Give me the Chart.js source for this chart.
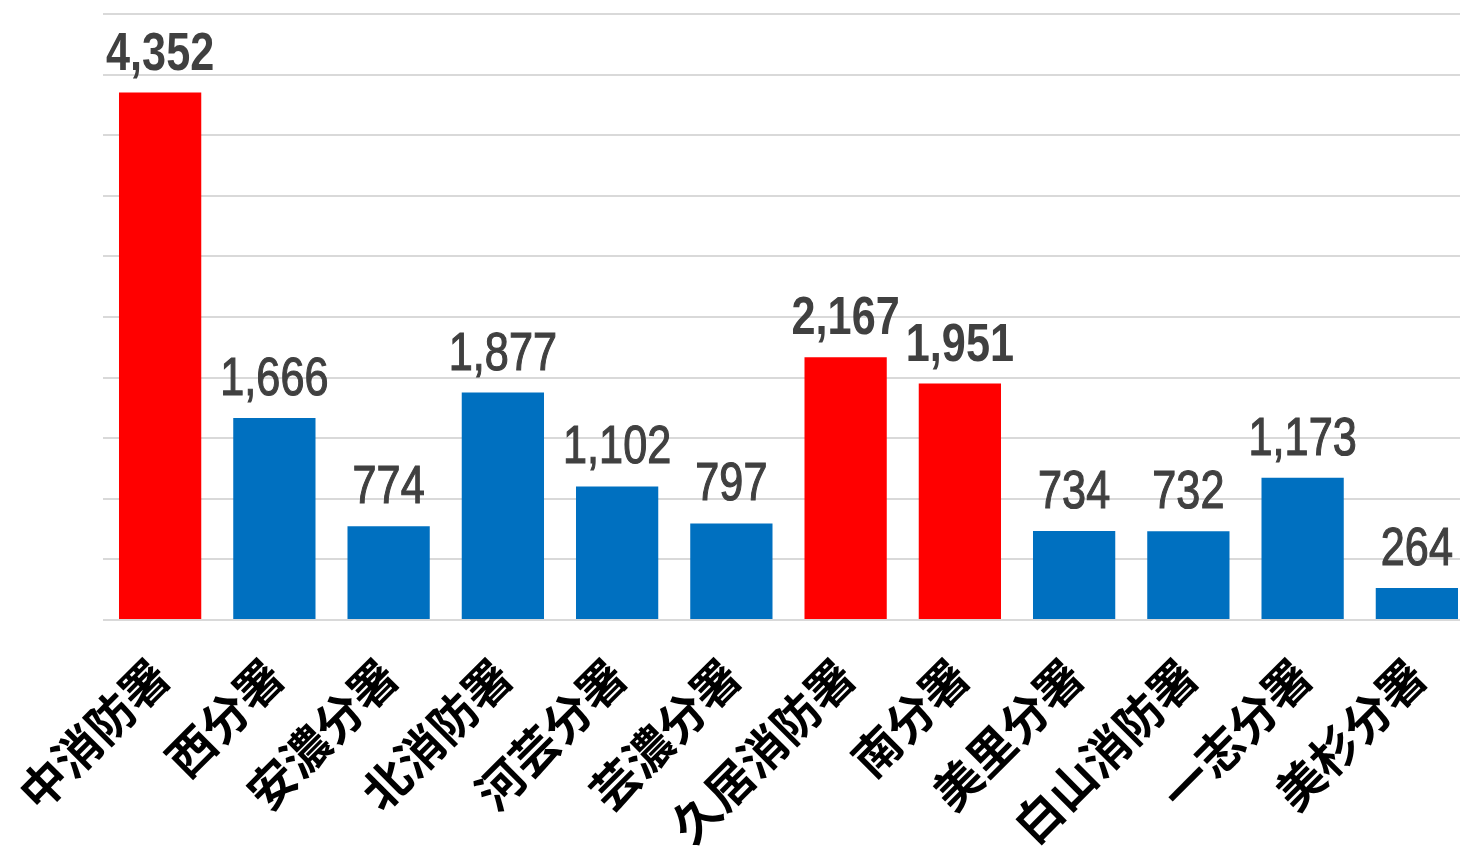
<!DOCTYPE html>
<html lang="ja">
<head>
<meta charset="utf-8">
<script src="https://cdn.jsdelivr.net/npm/chart.js@4/dist/chart.umd.min.js"></script>
<style>
  html, body { margin: 0; padding: 0; background: #fff; overflow: hidden; }
  #wrap { width: 1460px; height: 851px; overflow: hidden; }
</style>
</head>
<body>
<div id="wrap"><canvas id="grafico" width="1474" height="851"></canvas></div>
<script>
// 消防署別の件数
const categories = ["中消防署", "西分署", "安濃分署", "北消防署", "河芸分署", "芸濃分署",
  "久居消防署", "南分署", "美里分署", "白山消防署", "一志分署", "美杉分署"];
const values = [4352, 1666, 774, 1877, 1102, 797, 2167, 1951, 734, 732, 1173, 264];
// 本署(赤)かどうか
const isMain = [true, false, false, false, false, false, true, true, false, false, false, false];

const RED = "#FF0000";
const BLUE = "#0070C0";

// 棒の上に数値を描く
const valueLabels = {
  id: "valueLabels",
  afterDatasetsDraw(chart) {
    const ctx = chart.ctx;
    const meta = chart.getDatasetMeta(0);
    meta.data.forEach(function (bar, i) {
      const txt = values[i].toLocaleString("en-US");
      ctx.save();
      ctx.translate(bar.x, bar.y - 23);
      ctx.scale(0.8, 1);
      ctx.font = (isMain[i] ? "bold " : "") + "54px 'Liberation Sans', Arial, sans-serif";
      ctx.fillStyle = "#404040";
      ctx.strokeStyle = "#404040";
      ctx.lineWidth = 1.2;
      ctx.textAlign = "center";
      ctx.textBaseline = "alphabetic";
      ctx.fillText(txt, 0, 0);
      if (!isMain[i]) ctx.strokeText(txt, 0, 0); // 少し太く
      ctx.restore();
    });
  }
};

document.addEventListener("DOMContentLoaded", function () {
  const ctx = document.getElementById("grafico").getContext("2d");
  new Chart(ctx, {
    type: "bar",
    data: {
      labels: categories,
      datasets: [{
        data: values,
        backgroundColor: isMain.map(m => m ? RED : BLUE),
        barPercentage: 0.72,
        categoryPercentage: 1
      }]
    },
    options: {
      responsive: false,
      animation: false,
      layout: { padding: { top: 14, left: 0, right: 0, bottom: 0 } },
      plugins: {
        legend: { display: false },
        tooltip: { enabled: false }
      },
      scales: {
        x: {
          grid: { display: false, drawTicks: false },
          border: { display: false },
          afterFit(scale) {
            scale.height = 231;
            scale.paddingLeft = 103;
            scale.paddingRight = 0;
          },
          ticks: {
            autoSkip: false,
            minRotation: 45,
            maxRotation: 45,
            padding: 28,
            color: "#000",
            font: { family: "'Noto Sans CJK JP', sans-serif", size: 47, weight: "bold" }
          }
        },
        y: {
          min: 0,
          max: 5000,
          ticks: { display: false, stepSize: 500 },
          border: { display: false },
          grid: { color: "#d9d9d9", lineWidth: 2, drawTicks: false }
        }
      }
    },
    plugins: [valueLabels]
  });
});
</script>
</body>
</html>
